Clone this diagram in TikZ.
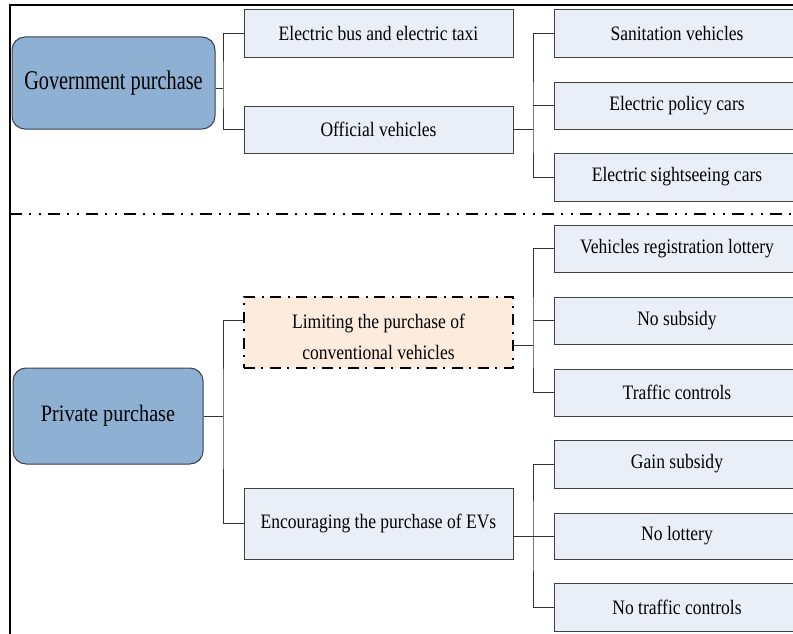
\documentclass[tikz,border=0pt]{standalone}
\usepackage{fontspec}
\setmainfont{Liberation Serif}
\newfontfamily\govf[FakeStretch=0.75]{Liberation Serif}
\newfontfamily\privf[FakeStretch=0.86]{Liberation Serif}
\newfontfamily\smf[FakeStretch=0.855]{Liberation Serif}
\definecolor{topblue}{RGB}{141,176,211}
\definecolor{topedge}{RGB}{55,65,80}
\definecolor{boxfill}{RGB}{234,239,247}
\definecolor{boxedge}{RGB}{64,64,64}
\definecolor{peach}{RGB}{253,236,222}
\definecolor{linegray}{RGB}{50,50,50}
\tikzset{
  topbox/.style={draw=topedge, line width=1pt, rounded corners=13pt, fill=topblue,
    inner sep=0pt, align=center},
  leafbox/.style={draw=boxedge, line width=0.9pt, fill=boxfill,
    font=\smf\fontsize{20.5}{31}\selectfont, inner sep=0pt, align=center},
  limbox/.style={leafbox, draw=black, fill=peach, line width=1.5pt,
    dash pattern=on 11pt off 6pt on 2pt off 7pt},
  limtext/.style={font=\smf\fontsize{20.5}{31}\selectfont, inner sep=0pt, align=center},
  conn/.style={draw=linegray, line width=0.9pt},
  frameline/.style={draw=black, line width=2.2pt},
  sepline/.style={draw=black, line width=2pt,
    dash pattern=on 12pt off 7pt on 2pt off 7.5pt on 2pt off 7.5pt}
}
\begin{document}
\begin{tikzpicture}[x=1pt,y=-1pt]
\useasboundingbox (0,0) rectangle (793,634);
\clip (0,0) rectangle (793,634);
% frame and separator
\draw[frameline] (10,640) -- (10,5) -- (800,5);
\draw[sepline] (10,214) -- (800,214);
% top level
\node[topbox, font=\govf\fontsize{27}{30}\selectfont, minimum width=203pt, minimum height=92pt] (gov) at (113.5,83) {Government purchase};
\node[topbox, font=\privf\fontsize{23.5}{28}\selectfont, minimum width=190pt, minimum height=96pt] (priv) at (108,416) {Private purchase};
% second level
\node[leafbox, minimum width=269pt, minimum height=48pt] (bus) at (378.5,33) {Electric bus and electric taxi};
\node[leafbox, minimum width=269pt, minimum height=47pt] (off) at (378.5,129.5) {Official vehicles};
\node[limbox, minimum width=269pt, minimum height=71pt] (lim) at (378.5,332.5) {};
\node[limtext] (limtxt) at (378.5,337) {Limiting the purchase of\\conventional vehicles};
\node[leafbox, minimum width=269pt, minimum height=71pt] (enc) at (378.5,523.5) {Encouraging the purchase of EVs};
% third level
\node[leafbox, minimum width=246pt, minimum height=48pt] (san) at (677,33) {Sanitation vehicles};
\node[leafbox, minimum width=246pt, minimum height=47pt] (pol) at (677,105.5) {Electric policy cars};
\node[leafbox, minimum width=246pt, minimum height=48pt] (sight) at (677,177) {Electric sightseeing cars};
\node[leafbox, minimum width=246pt, minimum height=47pt] (reg) at (677,248.5) {Vehicles registration lottery};
\node[leafbox, minimum width=246pt, minimum height=47pt] (nosub) at (677,320.5) {No subsidy};
\node[leafbox, minimum width=246pt, minimum height=47pt] (traf) at (677,392.5) {Traffic controls};
\node[leafbox, minimum width=246pt, minimum height=48pt] (gain) at (677,464) {Gain subsidy};
\node[leafbox, minimum width=246pt, minimum height=46pt] (nolot) at (677,536) {No lottery};
\node[leafbox, minimum width=246pt, minimum height=48pt] (notraf) at (677,607) {No traffic controls};
% junctions
\coordinate (j1) at (223,88);
\coordinate (j2) at (533,129.5);
\coordinate (j3) at (223,416);
\coordinate (j4) at (533,345);
\coordinate (j5) at (533,536);
\coordinate (limL) at (244,320);
\coordinate (limR) at (513,345);
% connectors
\draw[conn] (gov.east |- j1) -- (j1);
\draw[conn] (bus.west) -| (j1) |- (off.west);
\draw[conn] (off.east) -- (j2);
\draw[conn] (san.west) -| (j2) |- (sight.west);
\draw[conn] (pol.west) -- (pol.west -| j2);
\draw[conn] (priv.east) -- (j3);
\draw[conn] (limL) -| (j3) |- (enc.west);
\draw[conn] (limR) -- (j4);
\draw[conn] (reg.west) -| (j4) |- (traf.west);
\draw[conn] (nosub.west) -- (nosub.west -| j4);
\draw[conn] (enc.east |- j5) -- (j5);
\draw[conn] (gain.west) -| (j5) |- (notraf.west);
\draw[conn] (nolot.west) -- (nolot.west -| j5);
\end{tikzpicture}
\end{document}
